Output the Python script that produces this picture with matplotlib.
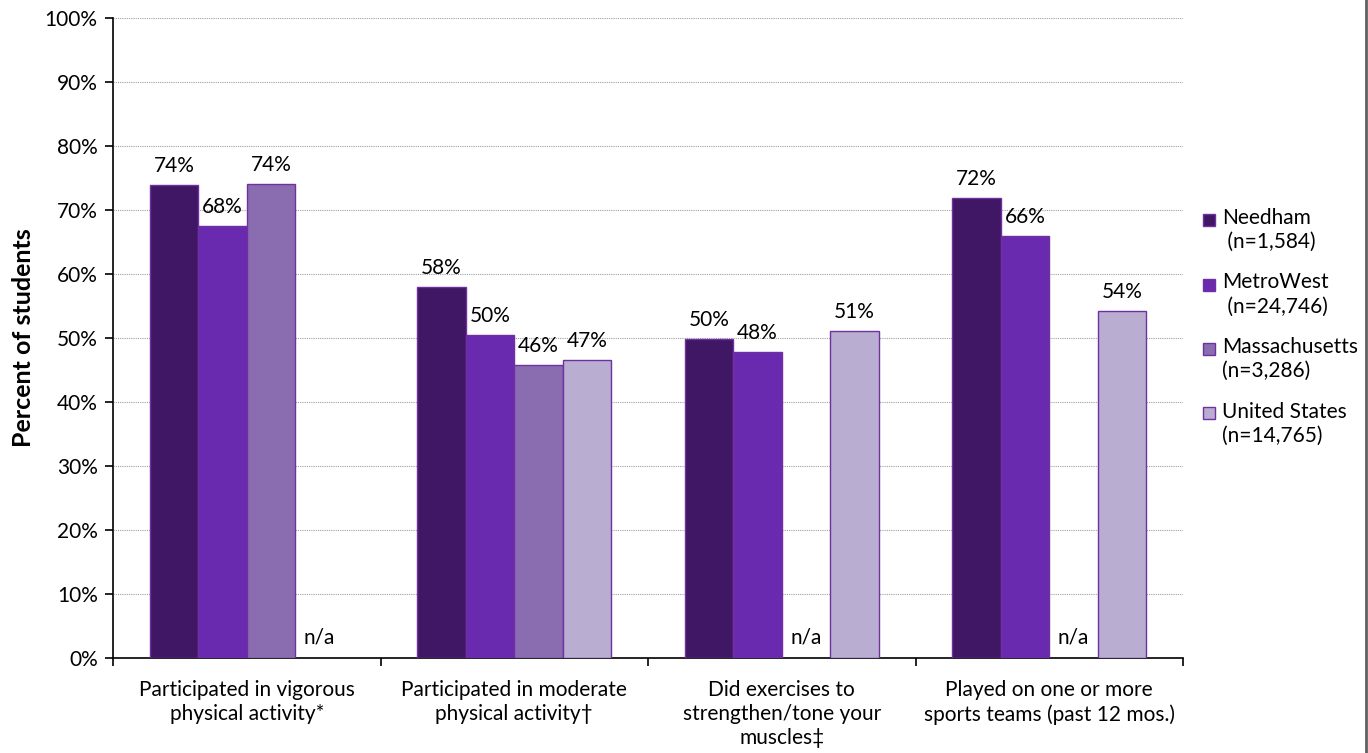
import matplotlib.pyplot as plt
import numpy as np
from matplotlib.lines import Line2D
from matplotlib.patches import Rectangle

plt.rcParams['font.family'] = ['Lato', 'DejaVu Sans']

categories = ['Participated in vigorous\nphysical activity*',
              'Participated in moderate\nphysical activity\u2020',
              'Did exercises to\nstrengthen/tone your\nmuscles\u2021',
              'Played on one or more\nsports teams (past 12 mos.)']
series = ['Needham\n (n=1,584)', 'MetroWest\n (n=24,746)',
          'Massachusetts\n(n=3,286)', 'United States\n(n=14,765)']
# label values as printed
needham = [74, 58, 50, 72]
metrowest = [68, 50, 48, 66]
massachusetts = [74, 46, None, None]
united_states = [None, 47, 51, 54]
# bar heights (labels are rounded)
needham_h = [73.9, 58.0, 49.8, 71.9]
metrowest_h = [67.5, 50.4, 47.8, 65.9]
massachusetts_h = [74.1, 45.8, None, None]
united_states_h = [None, 46.5, 51.1, 54.2]
colors = ['#3F1764', '#6A2AAF', '#8A6DB0', '#B9AED1']

heights = [needham_h, metrowest_h, massachusetts_h, united_states_h]
labels = [needham, metrowest, massachusetts, united_states]
FS = 15

fig = plt.figure(figsize=(13.68, 7.53), dpi=100)
ax = fig.add_axes([0.0826, 0.1262, 0.7822, 0.8499])

x = np.arange(len(categories))
w = 0.181
for i, (h, lab) in enumerate(zip(heights, labels)):
    pos = x + (i - 1.5) * w
    for p, hv, lv in zip(pos, h, lab):
        if hv is None:
            ax.text(p, 1.6, 'n/a', ha='center', va='bottom', fontsize=FS)
            continue
        ax.bar(p, hv, width=w, color=colors[i], edgecolor='#7030A0',
               linewidth=1.0, zorder=3)
        ax.text(p, hv + 1.4, f'{lv}%', ha='center', va='bottom', fontsize=FS)

ax.set_ylim(0, 100)
ax.set_xlim(-0.5, len(categories) - 0.5)
ax.set_yticks(np.arange(0, 101, 10))
ax.set_yticklabels([f'{v}%' for v in range(0, 101, 10)], fontsize=FS)
ax.set_xticks(np.arange(-0.5, len(categories), 1.0))
ax.set_xticklabels([])
ax.set_xticks(x, minor=True)
ax.set_xticklabels(categories, minor=True, fontsize=FS, linespacing=1.25)
ax.tick_params(axis='x', which='minor', length=0, pad=16)
ax.tick_params(axis='x', which='major', length=6, width=1.2, direction='out')
ax.tick_params(axis='y', length=6, width=1.2, direction='out', pad=5)
ax.yaxis.grid(True, linestyle=(0, (1, 1)), color='#A0A0A0', linewidth=0.8, zorder=0)
ax.set_axisbelow(True)
for s in ['top', 'right']:
    ax.spines[s].set_visible(False)
for s in ['left', 'bottom']:
    ax.spines[s].set_linewidth(1.2)
ax.set_ylabel('Percent of students', fontsize=18, fontweight='bold', labelpad=7)

# legend, handles aligned with first line of each label
for k, (name, c) in enumerate(zip(series, colors)):
    yc = 1 - (220 + 64.5 * k) / 753
    fig.add_artist(Rectangle((1203 / 1368, yc - 6 / 753), 12 / 1368, 12 / 753,
                             facecolor=c, edgecolor='#7030A0', linewidth=1.0,
                             transform=fig.transFigure))
    fig.text(1222 / 1368, yc + 12 / 753, name, ha='left', va='top',
             fontsize=FS, linespacing=1.25)

fig.add_artist(Line2D([0.9985, 0.9985], [0, 1], color='#606060', linewidth=2,
                      transform=fig.transFigure))

fig.savefig('out.png', dpi=100)
